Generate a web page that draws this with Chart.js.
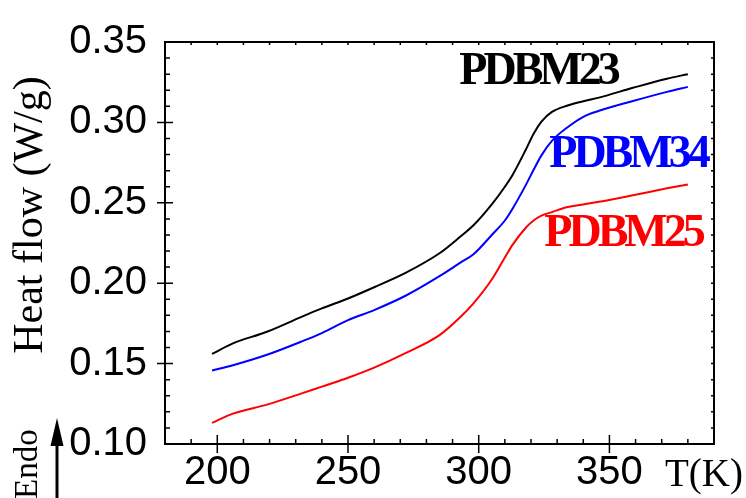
<!DOCTYPE html>
<html>
<head>
<meta charset="utf-8">
<script src="https://cdn.jsdelivr.net/npm/chart.js@4.4.1/dist/chart.umd.min.js"></script>
<style>
  html, body { margin: 0; padding: 0; background: #fff; }
  #wrap { width: 746px; height: 498px; }
</style>
</head>
<body>
<div id="wrap"><canvas id="dsc"></canvas></div>
<script>
/* DSC heat flow curves, three samples */

var temps  = [198, 206, 219, 232, 240, 250, 260, 272, 285, 293, 298, 305, 310, 313, 318, 321, 324, 328, 334, 340, 346, 359, 372, 380];
var pdbm23 = [0.1560, 0.1626, 0.1698, 0.1789, 0.1843, 0.1905, 0.1975, 0.2064, 0.2186, 0.2290, 0.2360, 0.2490, 0.2600, 0.2675, 0.2830, 0.2930, 0.3005, 0.3065, 0.3105, 0.3132, 0.3154, 0.3215, 0.3272, 0.3300];
var pdbm34 = [0.1457, 0.1490, 0.1555, 0.1636, 0.1690, 0.1770, 0.1833, 0.1922, 0.2044, 0.2128, 0.2180, 0.2300, 0.2390, 0.2465, 0.2610, 0.2705, 0.2795, 0.2885, 0.2970, 0.3035, 0.3072, 0.3133, 0.3190, 0.3221];
var pdbm25 = [0.1131, 0.1189, 0.1245, 0.1313, 0.1357, 0.1412, 0.1475, 0.1565, 0.1677, 0.1790, 0.1875, 0.2023, 0.2160, 0.2240, 0.2345, 0.2390, 0.2420, 0.2442, 0.2474, 0.2490, 0.2506, 0.2547, 0.2590, 0.2614];

var seriesNames  = ["PDBM23", "PDBM34", "PDBM25"];
var seriesColors = ["#000000", "#0000ff", "#ff0000"];
var xTickValues  = [200, 250, 300, 350];
var yTickValues  = [0.10, 0.15, 0.20, 0.25, 0.30, 0.35];

function pairs(ys) {
  return temps.map(function (t, i) { return { x: t, y: ys[i] }; });
}

// label anchors in data units (left edge, baseline)
var labelAnchors = [[292.6, 0.3237], [327.0, 0.2724], [325.1, 0.2229]];

var frame = {
  id: "frame",
  afterDraw: function (chart) {
    var ctx = chart.ctx, a = chart.chartArea;
    var xs = chart.scales.x, ys = chart.scales.y;
    ctx.save();
    ctx.strokeStyle = "#000";
    ctx.lineWidth = 2;
    ctx.strokeRect(a.left, a.top, a.right - a.left, a.bottom - a.top);

    ctx.lineWidth = 1.5;
    ctx.beginPath();
    var v, p, major;
    for (v = 190; v <= 380; v += 10) {
      p = xs.getPixelForValue(v);
      major = v % 50 === 0;
      ctx.moveTo(p, major ? a.bottom + 9 : a.bottom);
      ctx.lineTo(p, major ? a.bottom - 9 : a.bottom - 5);
      ctx.moveTo(p, a.top);
      ctx.lineTo(p, a.top + 3);
    }
    for (var k = 11; k <= 34; k++) {
      p = ys.getPixelForValue(k / 100);
      major = k % 5 === 0;
      ctx.moveTo(major ? a.left - 8 : a.left, p);
      ctx.lineTo(major ? a.left + 8 : a.left + 5, p);
      ctx.moveTo(a.right, p);
      ctx.lineTo(a.right - 3, p);
    }
    ctx.stroke();

    // series labels
    ctx.font = "bold 46px 'Liberation Serif'";
    ctx.letterSpacing = "-4px";
    ctx.textBaseline = "alphabetic";
    ctx.textAlign = "left";
    seriesNames.forEach(function (name, i) {
      ctx.fillStyle = seriesColors[i];
      ctx.fillText(name, xs.getPixelForValue(labelAnchors[i][0]), ys.getPixelForValue(labelAnchors[i][1]));
    });
    ctx.letterSpacing = "0px";

    // x axis unit
    ctx.fillStyle = "#000";
    ctx.font = "39px 'Liberation Serif'";
    ctx.fillText("T(K)", 665, 486);

    // y axis title
    ctx.save();
    ctx.translate(42, 215);
    ctx.rotate(-Math.PI / 2);
    ctx.textAlign = "center";
    ctx.font = "42px 'Liberation Serif'";
    ctx.fillText("Heat flow (W/g)", 0, 0);
    ctx.restore();

    // Endo marker
    ctx.save();
    ctx.translate(37, 499);
    ctx.rotate(-Math.PI / 2);
    ctx.textAlign = "left";
    ctx.font = "33px 'Liberation Serif'";
    ctx.fillText("Endo", 0, 0);
    ctx.restore();

    ctx.lineWidth = 3;
    ctx.beginPath();
    ctx.moveTo(57, 498);
    ctx.lineTo(57, 440);
    ctx.stroke();
    ctx.beginPath();
    ctx.moveTo(57, 418);
    ctx.lineTo(63.5, 446);
    ctx.lineTo(50.5, 446);
    ctx.closePath();
    ctx.fill();
    ctx.restore();
  }
};

new Chart(document.getElementById("dsc"), {
  type: "line",
  data: {
    datasets: [pdbm23, pdbm34, pdbm25].map(function (ys, i) {
      return {
        label: seriesNames[i],
        data: pairs(ys),
        borderColor: seriesColors[i],
        borderWidth: 2,
        pointRadius: 0,
        fill: false,
        cubicInterpolationMode: "monotone"
      };
    })
  },
  options: {
    responsive: true,
    maintainAspectRatio: false,
    animation: false,
    layout: { padding: { top: 35, right: 32, left: 0, bottom: 0 } },
    plugins: { legend: { display: false }, tooltip: { enabled: false } },
    scales: {
      x: {
        type: "linear",
        min: 180,
        max: 390,
        grid: { display: false, drawTicks: false },
        border: { display: false },
        afterBuildTicks: function (s) { s.ticks = xTickValues.map(function (v) { return { value: v }; }); },
        afterFit: function (s) { s.height = 54; },
        ticks: {
          color: "#000",
          padding: 5,
          maxRotation: 0,
          autoSkip: false,
          font: { family: "'Liberation Sans'", size: 40 }
        }
      },
      y: {
        min: 0.10,
        max: 0.35,
        grid: { display: false, drawTicks: false },
        border: { display: false },
        afterBuildTicks: function (s) { s.ticks = yTickValues.map(function (v) { return { value: v }; }); },
        afterFit: function (s) { s.width = 165; },
        ticks: {
          color: "#000",
          padding: 18,
          autoSkip: false,
          font: { family: "'Liberation Sans'", size: 40 },
          callback: function (v) { return Number(v).toFixed(2); }
        }
      }
    }
  },
  plugins: [frame]
});
</script>
</body>
</html>
